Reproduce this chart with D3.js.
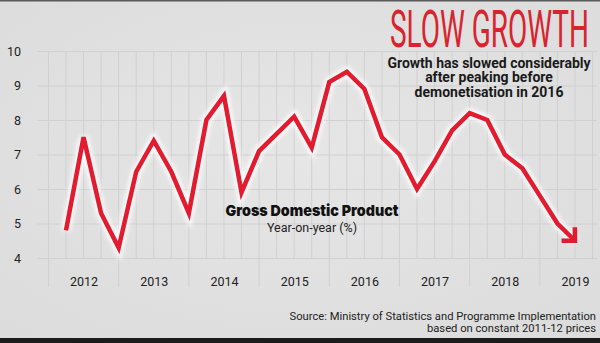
<!DOCTYPE html>
<html>
<head>
<meta charset="utf-8">
<script src="https://cdn.jsdelivr.net/npm/d3@7"></script>
<style>
html,body{margin:0;padding:0;background:#e1e1e1;}
svg{display:block;}
</style>
</head>
<body>
<svg id="chart" width="600" height="343"></svg>
<script>
// ---- data ----
const quarters = ["2012 Q1","2012 Q2","2012 Q3","2012 Q4","2013 Q1","2013 Q2","2013 Q3","2013 Q4",
  "2014 Q1","2014 Q2","2014 Q3","2014 Q4","2015 Q1","2015 Q2","2015 Q3","2015 Q4",
  "2016 Q1","2016 Q2","2016 Q3","2016 Q4","2017 Q1","2017 Q2","2017 Q3","2017 Q4",
  "2018 Q1","2018 Q2","2018 Q3","2018 Q4","2019 Q1","2019 Q2"];
const gdpGrowth = [4.8, 7.5, 5.3, 4.3, 6.5, 7.4, 6.5, 5.3, 8.0, 8.7, 5.9, 7.1, 7.6, 8.1, 7.2, 9.1,
  9.4, 8.9, 7.5, 7.0, 6.0, 6.8, 7.7, 8.2, 8.0, 7.0, 6.6, 5.8, 5.0, 4.5];
const yearLabels = ["2012","2013","2014","2015","2016","2017","2018","2019"];
const yearTickQuarters = ["2012 Q2","2013 Q2","2014 Q2","2015 Q2","2016 Q2","2017 Q2","2018 Q2","2019 Q2"];
const yTicks = [4,5,6,7,8,9,10];
const titleText = "SLOW GROWTH";
const subtitleLines = ["Growth has slowed considerably","after peaking before","demonetisation in 2016"];
const seriesName = "Gross Domestic Product";
const seriesUnit = "Year-on-year (%)";
const sourceLines = ["Source: Ministry of Statistics and Programme Implementation","based on constant 2011-12 prices"];

// ---- layout ----
const W = 600, H = 343;
const svg = d3.select("#chart");
const FONT = "Roboto, 'Noto Sans', sans-serif";

const defs = svg.append("defs");
const rg = defs.append("radialGradient").attr("id","bg").attr("cx","50%").attr("cy","45%").attr("r","70%");
rg.append("stop").attr("offset","0%").attr("stop-color","#e6e6e6");
rg.append("stop").attr("offset","100%").attr("stop-color","#dcdcdc");
const glow = defs.append("filter").attr("id","glow").attr("x","-10%").attr("y","-10%").attr("width","120%").attr("height","120%");
glow.append("feGaussianBlur").attr("stdDeviation",2.2);

defs.append("marker").attr("id","arrow")
  .attr("viewBox","-14 -14 20 28").attr("markerWidth",20).attr("markerHeight",28)
  .attr("refX",0).attr("refY",0).attr("orient","auto").attr("markerUnits","userSpaceOnUse")
  .append("path").attr("d","M-9.5,-9.5 L0,0 L-9.5,9.5")
  .attr("fill","none").attr("stroke","#e31b2e").attr("stroke-width",4.5).attr("stroke-linecap","butt").attr("stroke-linejoin","miter");

svg.append("rect").attr("width",W).attr("height",H).attr("fill","url(#bg)");
svg.append("rect").attr("x",0).attr("y",0).attr("width",W).attr("height",1.5).attr("fill","#5a5a5a");
svg.append("rect").attr("x",0).attr("y",338).attr("width",W).attr("height",5).attr("fill","#1c1c1c");

const x = d3.scalePoint().domain(quarters).range([66, 575]);
const y = d3.scaleLinear().domain([4, 10]).range([258, 51]);
const step = x.step();

// horizontal grid + y labels via axis
const gridLeft = 37, gridRight = 597;
const yAxis = d3.axisLeft(y).tickValues(yTicks).tickSize(-(gridRight - gridLeft)).tickPadding(16).tickFormat(d3.format("d"));
const gy = svg.append("g").attr("transform",`translate(${gridLeft},0)`).call(yAxis);
gy.select(".domain").remove();
gy.selectAll(".tick line").attr("stroke","#d0d0d0").attr("stroke-width",1);
gy.selectAll(".tick text").attr("font-family",FONT).attr("font-size",12.5).attr("fill","#222").attr("x",-16);

// vertical grid lines (quarters), year boundaries longer
const gridIdx = d3.range(-1, 31);
svg.append("g").selectAll("line").data(gridIdx).join("line")
  .attr("x1", i => x(quarters[0]) + i * step)
  .attr("x2", i => x(quarters[0]) + i * step)
  .attr("y1", 51)
  .attr("y2", i => ((i + 1) % 4 === 0) ? 287 : 258)
  .attr("stroke","#d0d0d0").attr("stroke-width",1);

// x axis labels
const xAxis = d3.axisBottom(x).tickValues(yearTickQuarters).tickSize(0).tickPadding(19)
  .tickFormat(q => yearLabels[yearTickQuarters.indexOf(q)]);
const gx = svg.append("g").attr("transform","translate(0,258)").call(xAxis);
gx.select(".domain").remove();
gx.selectAll(".tick text").attr("font-family",FONT).attr("font-size",12.5).attr("fill","#222");

// line
const data = quarters.map((q, i) => ({q, v: gdpGrowth[i]}));
const line = d3.line().x(d => x(d.q)).y(d => y(d.v));
svg.append("path").datum(data).attr("d", line)
  .attr("fill","none").attr("stroke","#ffffff").attr("stroke-opacity",0.9).attr("stroke-width",9.5)
  .attr("stroke-linejoin","miter").attr("filter","url(#glow)");
svg.append("path").datum(data).attr("d", line)
  .attr("fill","none").attr("stroke","#e31b2e").attr("stroke-width",4.5)
  .attr("stroke-linejoin","miter").attr("stroke-miterlimit",4)
  .attr("marker-end","url(#arrow)");

// title: condensed by horizontal scaling
const titleG = svg.append("g");
const title = titleG.append("text").attr("x",0).attr("y",0)
  .attr("font-family",FONT).attr("font-weight",400).attr("font-size",51)
  .attr("fill","#d8242f").text(titleText);
const natW = title.node().getComputedTextLength();
const sx = 199 / natW;
titleG.attr("transform",`translate(390,46.5) scale(${sx},1)`);

svg.append("g").selectAll("text").data(subtitleLines).join("text")
  .attr("x",489).attr("y",(d,i) => 67.5 + i * 14.5)
  .attr("text-anchor","middle").attr("font-family",FONT).attr("font-weight",700)
  .attr("font-size",14).attr("fill","#1a1a1a").text(d => d);

// series label
svg.append("text").attr("x",312).attr("y",216).attr("text-anchor","middle")
  .attr("font-family","Inter, Roboto, sans-serif").attr("font-weight",900).attr("font-size",15)
  .attr("textLength",173).attr("lengthAdjust","spacingAndGlyphs")
  .attr("fill","#111").text(seriesName);
svg.append("text").attr("x",312).attr("y",232).attr("text-anchor","middle")
  .attr("font-family",FONT).attr("font-size",12.5).attr("fill","#222").text(seriesUnit);

// source
svg.append("g").selectAll("text").data(sourceLines).join("text")
  .attr("x",596).attr("y",(d,i) => 320 + i * 11.5)
  .attr("text-anchor","end").attr("font-family",FONT).attr("font-size",11.2)
  .attr("fill","#222").text(d => d);
</script>
</body>
</html>
